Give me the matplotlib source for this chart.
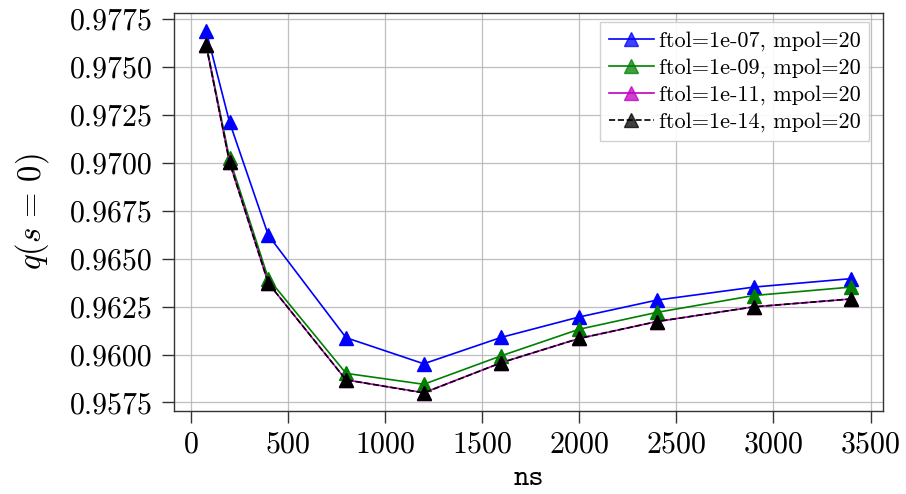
import matplotlib
matplotlib.use("Agg")
import matplotlib.pyplot as plt
from matplotlib.colors import to_rgba

plt.rcParams["font.family"] = ["cmr10", "DejaVu Serif"]
plt.rcParams["mathtext.fontset"] = "cm"
plt.rcParams["axes.formatter.use_mathtext"] = True
plt.rcParams["axes.unicode_minus"] = False

# Resolution scan: number of surfaces vs. rotational transform on axis
ns = [80, 200, 400, 800, 1200, 1600, 2000, 2400, 2900, 3400]

q_ftol_1e07 = [0.97688, 0.97213, 0.96622, 0.96088, 0.95952, 0.96090,
               0.96196, 0.96284, 0.96352, 0.96396]
q_ftol_1e09 = [0.97615, 0.97023, 0.96396, 0.95902, 0.95845, 0.95994,
               0.96132, 0.96220, 0.96308, 0.96352]
q_ftol_1e11 = [0.97613, 0.97003, 0.96372, 0.95868, 0.95801, 0.95958,
               0.96084, 0.96172, 0.96249, 0.96290]
q_ftol_1e14 = [0.97613, 0.97003, 0.96372, 0.95868, 0.95800, 0.95958,
               0.96084, 0.96172, 0.96249, 0.96290]

labels = ["ftol=1e-07, mpol=20", "ftol=1e-09, mpol=20",
          "ftol=1e-11, mpol=20", "ftol=1e-14, mpol=20"]
colors = ["blue", "green", "m", "black"]
styles = ["-", "-", "-", "--"]

fig, ax = plt.subplots(figsize=(9.06, 4.94), dpi=100)
fig.subplots_adjust(left=0.192, right=0.975, top=0.974, bottom=0.168)

for ys, lab, c, ls in zip([q_ftol_1e07, q_ftol_1e09, q_ftol_1e11, q_ftol_1e14],
                          labels, colors, styles):
    ax.plot(ns, ys, ls, color=c, marker="^", markersize=10, linewidth=1.2,
            label=lab)

ax.set_yticks([0.9575, 0.9600, 0.9625, 0.9650, 0.9675, 0.9700, 0.9725,
               0.9750, 0.9775])
ax.set_yticklabels(["0.9575", "0.9600", "0.9625", "0.9650", "0.9675",
                    "0.9700", "0.9725", "0.9750", "0.9775"])
ax.set_xticks([0, 500, 1000, 1500, 2000, 2500, 3000, 3500])

ax.tick_params(axis="both", which="major", labelsize=21.5, direction="out",
               length=8.5, width=1.0, color="#333333")
ax.tick_params(axis="y", pad=7)
ax.tick_params(axis="x", pad=6)
ax.grid(True, color="#b0b0b0", linewidth=0.9, alpha=0.8)
for sp in ax.spines.values():
    sp.set_color("#333333")
    sp.set_linewidth(1.0)

ax.set_xlabel("ns", family="cmtt10", fontsize=21, labelpad=6)
ax.set_ylabel(r"$q(s\,=\,0)$", fontsize=23.5, labelpad=13)

leg = ax.legend(loc="upper right", bbox_to_anchor=(0.980, 0.977),
                borderaxespad=0.0, fontsize=16, handlelength=2.0,
                handletextpad=0.22, borderpad=0.4, labelspacing=0.32,
                fancybox=False, edgecolor="#cccccc", framealpha=0.9)
for h, c in zip(leg.get_lines(), colors):
    h.set_markerfacecolor(to_rgba(c, 0.75))

fig.savefig("out.png", dpi=100)
